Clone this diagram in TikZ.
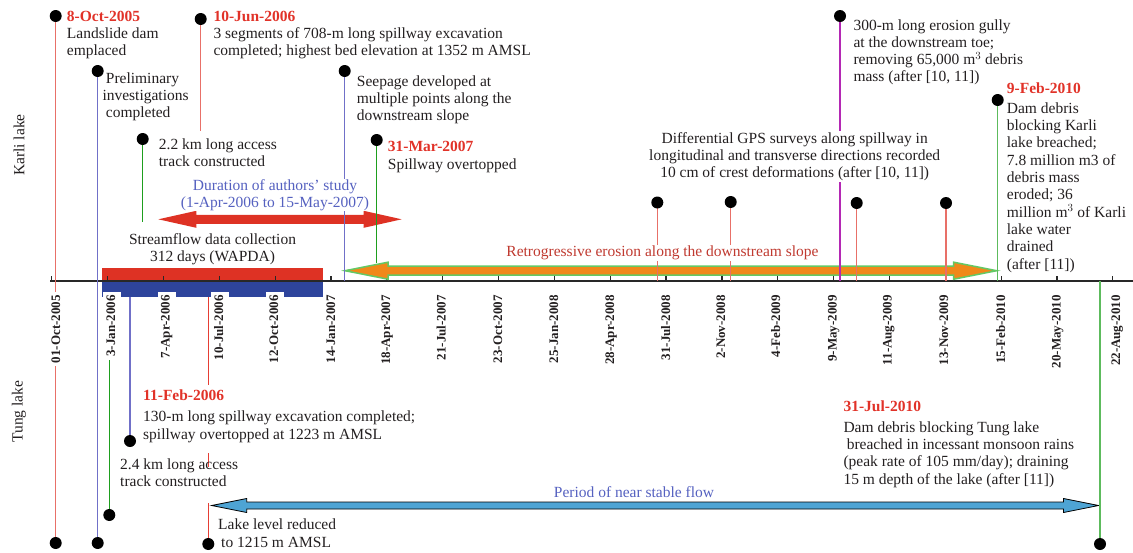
\documentclass[tikz,border=0pt]{standalone}
\usepackage{fontspec}
\setmainfont{Liberation Serif}
\definecolor{txt}{RGB}{35,31,32}
\definecolor{datered}{RGB}{225,50,40}
\definecolor{lred}{RGB}{232,112,104}
\definecolor{vred}{RGB}{230,62,52}
\definecolor{lblue}{RGB}{112,112,200}
\definecolor{dgreen}{RGB}{30,158,30}
\definecolor{lgreen}{RGB}{93,187,93}
\definecolor{mag}{RGB}{180,40,180}
\definecolor{studyblue}{RGB}{85,97,192}
\definecolor{erosred}{RGB}{192,58,48}
\definecolor{barred}{RGB}{222,50,36}
\definecolor{barblue}{RGB}{46,68,156}
\definecolor{orangefill}{RGB}{240,136,26}
\definecolor{arrowgreen}{RGB}{100,200,100}
\definecolor{flowblue}{RGB}{78,164,212}
\definecolor{axisgray}{RGB}{40,40,40}

% flat double-headed arrow: left tip x, right tip x, y, shaft half width, head half width, head length, style
\newcommand{\flatarrow}[7]{%
  \filldraw[#7] (#1,#3) -- (#1+#6,#3-#5) -- (#1+#6,#3-#4) -- (#2-#6,#3-#4) -- (#2-#6,#3-#5)
    -- (#2,#3) -- (#2-#6,#3+#5) -- (#2-#6,#3+#4) -- (#1+#6,#3+#4) -- (#1+#6,#3+#5) -- cycle;}

% body nodes are placed at the baseline of their last line
\tikzset{
  body/.style={font=\fontsize{15.5}{17.3}\selectfont, text=txt, align=left, inner sep=0pt, anchor=base west},
  head/.style={font=\fontsize{15.5}{17}\selectfont\bfseries, text=datered, inner sep=0pt, anchor=base west},
  ticklabel/.style={font=\fontsize{13}{13}\selectfont\bfseries, text=txt, rotate=90, anchor=east,
    fill=white, inner sep=3pt, text height=9pt, text depth=3pt},
  lakelabel/.style={font=\fontsize{15.5}{17}\selectfont, text=txt, rotate=90, inner sep=0pt},
  vline/.style={line width=1.2pt},
  dot/.style={fill=black},
}

\begin{document}
\begin{tikzpicture}[x=1pt,y=-1pt]
\useasboundingbox (0,0) rectangle (1133,552);

% streamflow bars
\fill[barred] (101.7,268) rectangle (323.3,281);
\fill[barblue] (101.7,281) rectangle (323.3,297);

% time axis and ticks
\draw[axisgray, line width=1.3pt] (50,281) -- (1133,281);
\foreach \n in {0,...,19}
  \draw[axisgray, line width=1.2pt] (51.7+55.85*\n,281) -- ++(0,-5.5);

% duration arrows
\flatarrow{158.3}{401.7}{219.3}{4.5}{8.5}{38}{fill=barred, draw=none}
\flatarrow{345}{996.7}{270.7}{4.5}{8.5}{43}{fill=orangefill, draw=arrowgreen, line width=1.5pt}
\flatarrow{211.7}{1098.5}{505.5}{3.5}{7}{35}{fill=flowblue, draw=black, line width=0.8pt}

% event positions
\coordinate (oct8t) at (55.7,16);    \coordinate (oct8b) at (55.7,543);
\coordinate (prelt) at (97.7,71);    \coordinate (prelb) at (97.7,543);
\coordinate (trkK)  at (142.7,139);  \coordinate (trkKe) at (142.7,222);
\coordinate (jun10) at (200.7,19);   \coordinate (jun10e) at (200.7,131);
\coordinate (seep)  at (344.7,71);   \coordinate (seepe) at (344.7,281);
\coordinate (mar31) at (376.7,140);  \coordinate (mar31e) at (376.7,263);
\coordinate (gpsA)  at (657.3,202.5); \coordinate (gpsAe) at (657.3,281);
\coordinate (gpsB)  at (730.7,202);  \coordinate (gpsBe) at (730.7,281);
\coordinate (gully) at (840,16);     \coordinate (gullye) at (840,281);
\coordinate (gpsC)  at (856.7,203);  \coordinate (gpsCe) at (856.7,281);
\coordinate (gpsD)  at (946,203);    \coordinate (gpsDe) at (946,281);
\coordinate (feb9)  at (997.7,100);  \coordinate (feb9e) at (997.7,281);
\coordinate (trkTs) at (109.3,297);  \coordinate (trkT) at (109.3,515);
\coordinate (feb11s) at (130,297);   \coordinate (feb11) at (130,441);
\coordinate (lvls) at (208.3,297);   \coordinate (lvl) at (208.3,544);
\coordinate (lvA) at (208.3,385);    \coordinate (lvB) at (208.3,453);
\coordinate (lvC) at (208.3,467);    \coordinate (lvD) at (208.3,503);
\coordinate (jul31s) at (1100,281);  \coordinate (jul31) at (1100,544);

% event stems
\draw[vline, lred] (oct8t) -- (oct8b);
\draw[vline, lblue] (prelt) -- (prelb);
\draw[vline, dgreen] (trkK) -- (trkKe);
\draw[vline, lred] (jun10) -- (jun10e);
\draw[vline, lblue] (seep) -- (seepe);
\draw[vline, dgreen] (mar31) -- (mar31e);
\draw[vline, lred] (gpsA) -- (gpsAe);
\draw[vline, lred] (gpsB) -- (gpsBe);
\draw[vline, mag] (gully) -- (gullye);
\draw[vline, lred] (gpsC) -- (gpsCe);
\draw[vline, lred] (gpsD) -- (gpsDe);
\draw[vline, lgreen] (feb9) -- (feb9e);
\draw[vline, dgreen] (trkTs) -- (trkT);
\draw[vline, lblue] (feb11s) -- (feb11);
\draw[vline, vred] (lvls) -- (lvA) (lvB) -- (lvC) (lvD) -- (lvl);
\draw[vline, lgreen] (jul31s) -- (jul31);

% tick labels
\foreach \x/\d [count=\i] in {57/01-Oct-2005, 112/3-Jan-2006, 166.5/7-Apr-2006, 220/10-Jul-2006,
    275/12-Oct-2006, 332/14-Jan-2007, 387/18-Apr-2007, 442.7/21-Jul-2007, 499/23-Oct-2007,
    555/25-Jan-2008, 611/28-Apr-2008, 667/31-Jul-2008, 722/2-Nov-2008, 777/4-Feb-2009,
    833.5/9-May-2009, 888.5/11-Aug-2009, 945/13-Nov-2009, 1002/15-Feb-2010,
    1057.7/20-May-2010, 1117/22-Aug-2010}
  \node[ticklabel] (tick\i) at (\x,292) {\d};

% lake labels
\node[lakelabel] (karli) at (19,145) {Karli lake};
\node[lakelabel] (tung) at (19,411.7) {Tung lake};

% Karli lake events
\node[head] (h1) at (66.7,21.7) {8-Oct-2005};
\node[body] (t1) at (66.7,55.6) {Landslide dam\\emplaced};
\node[body] (t2) at (105.7,117.9) {Preliminary\\\hspace*{-3.4pt}investigations\\completed};
\node[body] (t3) at (158.7,166.6) {2.2 km long access\\track constructed};
\node[head] (h4) at (213.3,21.7) {10-Jun-2006};
\node[body] (t4) at (213.3,55.6) {3 segments of 708-m long spillway excavation\\completed; highest bed elevation at 1352 m AMSL};
\node[body] (t5) at (356.7,120.6) {Seepage developed at\\multiple points along the\\downstream slope};
\node[head] (h6) at (387.7,151.7) {31-Mar-2007};
\node[body] (t6) at (387.7,169) {Spillway overtopped};
\node[body, align=center, anchor=base, fill=white, inner sep=1pt] (t7) at (794.7,177.9)
  {Differential GPS surveys along spillway in\\longitudinal and transverse directions recorded\\10 cm of crest deformations (after [10, 11])};
\node[body] (t8) at (853.3,81.9) {300-m long erosion gully\\at the downstream toe;\\removing 65,000 m$^3$ debris\\mass (after [10, 11])};
\node[head] (h9) at (1006.7,93.8) {9-Feb-2010};
\node[body] (t9) at (1006.7,269) {Dam debris\\blocking Karli\\lake breached;\\7.8 million m3 of\\debris mass\\eroded; 36\\million m$^3$ of Karli\\lake water\\drained\\(after [11])};

% periods
\node[body, align=center, anchor=base, text=studyblue, fill=white, inner xsep=1pt, inner ysep=0.5pt] (study) at (275,207.3)
  {Duration of authors' study\\(1-Apr-2006 to 15-May-2007)};
\node[body, align=center, anchor=base] (flow) at (212.5,261.3) {Streamflow data collection\\312 days (WAPDA)};
\node[body, anchor=base, text=erosred, fill=white, inner sep=1pt] (eros) at (662.5,256.7)
  {Retrogressive erosion along the downstream slope};
\node[body, anchor=base, text=studyblue] (stable) at (634,497) {Period of near stable flow};

% Tung lake events
\node[head] (h10) at (143,400.7) {11-Feb-2006};
\node[body] (t10) at (143,439) {130-m long spillway excavation completed;\\spillway overtopped at 1223 m AMSL};
\node[body] (t11) at (120,486.3) {2.4 km long access\\track constructed};
\node[body] (t12) at (218,547) {Lake level reduced\\\hspace*{3pt}to 1215 m AMSL};
\node[head] (h13) at (843.3,411.7) {31-Jul-2010};
\node[body] (t13) at (843.3,484) {Dam debris blocking Tung lake\\\hspace*{3.3pt}breached in incessant monsoon rains\\(peak rate of 105 mm/day); draining\\15 m depth of the lake (after [11])};

% event dots
\foreach \p in {oct8t,oct8b,prelt,prelb,trkK,jun10,seep,mar31,gpsA,gpsB,gully,gpsC,gpsD,feb9,trkT,feb11,lvl,jul31}
  \fill[dot] (\p) circle (6);
\end{tikzpicture}
\end{document}
